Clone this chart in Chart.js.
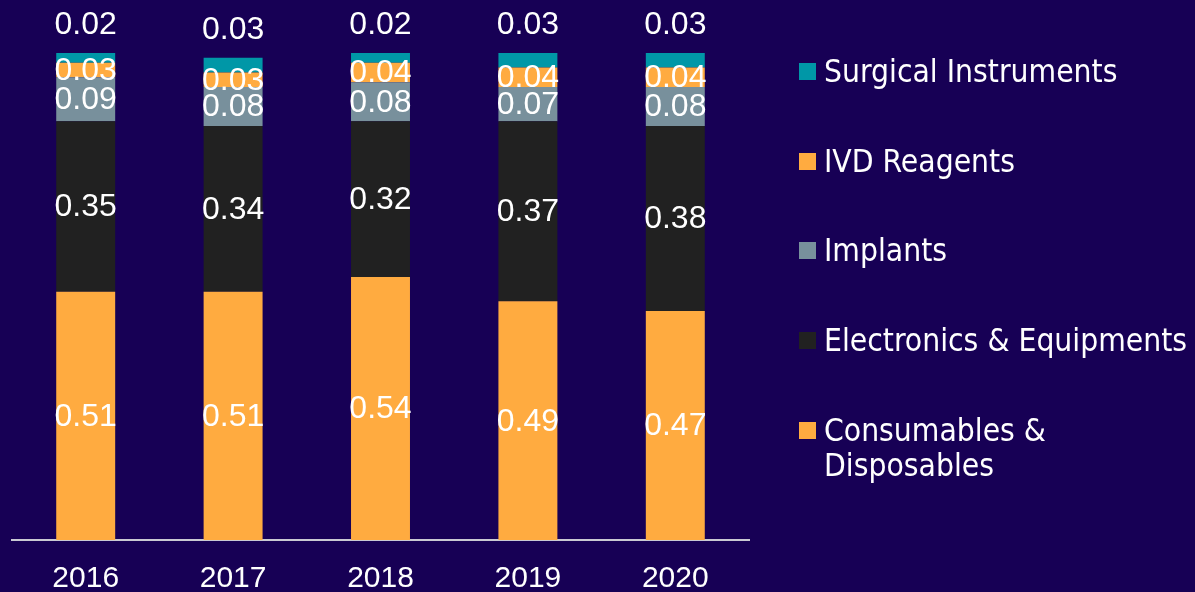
<!DOCTYPE html>
<html>
<head>
<meta charset="utf-8">
<script src="https://cdn.jsdelivr.net/npm/chart.js@4"></script>
<style>
  html, body { margin: 0; padding: 0; background: #170055; }
  #wrap { position: relative; width: 1195px; height: 592px; overflow: hidden; }
  #chartBox { position: absolute; left: 0; top: 0; width: 760px; height: 592px; }
  #legend { position: absolute; left: 0; top: 0; width: 1195px; height: 592px; pointer-events: none; }
  .item { position: absolute; left: 799px; display: flex; align-items: flex-start; }
  .box { width: 17px; height: 17px; margin-top: 9px; margin-right: 8px; flex: none; }
  .lbl { color: #fff; font-family: "DejaVu Sans Condensed", "DejaVu Sans", sans-serif; font-stretch: condensed; font-size: 31.5px; line-height: 35px; white-space: nowrap; }
</style>
</head>
<body>
<div id="wrap">
  <div id="chartBox"><canvas id="sharechart"></canvas></div>
  <div id="legend"></div>
</div>
<script>
// Categories (years)
const years = ['2016', '2017', '2018', '2019', '2020'];

// Share of each segment per year
const consumables = [0.51, 0.51, 0.54, 0.49, 0.47];
const electronics = [0.35, 0.34, 0.32, 0.37, 0.38];
const implants = [0.09, 0.08, 0.08, 0.07, 0.08];
const ivdReagents = [0.03, 0.03, 0.04, 0.04, 0.04];
const surgical = [0.02, 0.03, 0.02, 0.03, 0.03];

// Series names, bottom of the stack first
const seriesNames = ['Consumables & Disposables', 'Electronics & Equipments', 'Implants', 'IVD Reagents', 'Surgical Instruments'];
const seriesColors = ['#FFAB40', '#212121', '#78909C', '#FFAB40', '#0097A7'];
const seriesData = [consumables, electronics, implants, ivdReagents, surgical];

// Draws value labels: centred in each segment, above the bar for the top series
const valueLabels = {
    id: 'valueLabels',
    afterDatasetsDraw(chart) {
        const ctx = chart.ctx;
        ctx.save();
        ctx.fillStyle = '#ffffff';
        ctx.font = '32px "Liberation Sans", Arial, sans-serif';
        ctx.textAlign = 'center';
        ctx.textBaseline = 'middle';
        const last = chart.data.datasets.length - 1;
        chart.data.datasets.forEach((ds, i) => {
            const meta = chart.getDatasetMeta(i);
            meta.data.forEach((bar, j) => {
                const y = i === last ? bar.y - 28 : (bar.y + bar.base) / 2 + 1;
                ctx.fillText(ds.data[j].toFixed(2), bar.x, y);
            });
        });
        ctx.restore();
    }
};

const ctx = document.getElementById('sharechart').getContext('2d');
const shareChart = new Chart(ctx, {
    type: 'bar',
    data: {
        labels: years,
        datasets: seriesNames.map((name, i) => ({
            label: name,
            data: seriesData[i],
            backgroundColor: seriesColors[i],
            borderWidth: 0,
            barPercentage: 0.4,
            categoryPercentage: 1
        }))
    },
    options: {
        responsive: true,
        maintainAspectRatio: false,
        animation: false,
        layout: {
            padding: { left: 12, right: 11, top: 53, bottom: -26 }
        },
        plugins: {
            legend: { display: false },
            tooltip: { enabled: false }
        },
        scales: {
            x: {
                stacked: true,
                grid: { display: false, drawTicks: false },
                border: { display: true, color: '#c9c9d3', width: 2 },
                ticks: {
                    color: '#ffffff',
                    padding: 21,
                    font: { family: '"Liberation Sans", Arial, sans-serif', size: 30 }
                }
            },
            y: {
                stacked: true,
                display: false,
                min: 0,
                max: 1
            }
        }
    },
    plugins: [valueLabels]
});

// Legend on the right, top series first
const legend = document.getElementById('legend');
const legendCenters = [71, 161, 250, 340, 430];
for (let k = 0; k < seriesNames.length; k++) {
    const i = seriesNames.length - 1 - k;
    const item = document.createElement('div');
    item.className = 'item';
    item.style.top = (legendCenters[k] - 17) + 'px';
    const box = document.createElement('div');
    box.className = 'box';
    box.style.background = seriesColors[i];
    const lbl = document.createElement('div');
    lbl.className = 'lbl';
    lbl.innerHTML = seriesNames[i] === 'Consumables & Disposables'
        ? 'Consumables &amp;<br>Disposables'
        : seriesNames[i].replace('&', '&amp;');
    item.appendChild(box);
    item.appendChild(lbl);
    legend.appendChild(item);
}
</script>
</body>
</html>
